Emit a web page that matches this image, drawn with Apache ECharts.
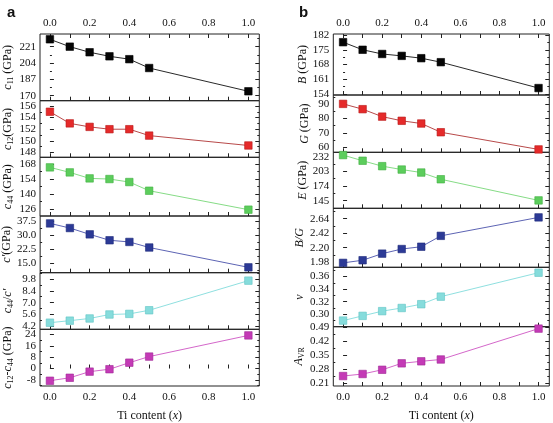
<!DOCTYPE html>
<html><head><meta charset="utf-8">
<script src="https://cdn.jsdelivr.net/npm/echarts@6/dist/echarts.min.js"></script>
<style>html,body{margin:0;padding:0;background:#fff}#c{width:553px;height:423px}</style>
</head><body><div id="c"></div>
<script>
// ---- data (Ti content x) ----
const tiContent = [0.0, 0.1, 0.2, 0.3, 0.4, 0.5, 1.0];
const xTickValues = [0.0, 0.2, 0.4, 0.6, 0.8, 1.0];
const xMinorTickValues = [0.0, 0.1, 0.2, 0.3, 0.4, 0.5, 0.6, 0.7, 0.8, 0.9, 1.0];

// panel a
const c11 = [228.7, 221.0, 215.2, 211.0, 208.0, 198.8, 174.6];
const c12 = [155.0, 153.0, 152.4, 152.0, 152.0, 150.9, 149.2];
const c44 = [164.9, 160.2, 154.6, 154.0, 151.2, 143.1, 125.4];
const cPrime = [36.4, 33.9, 30.5, 27.3, 26.4, 23.4, 12.7];
const c44OverCPrime = [4.63, 4.87, 5.13, 5.60, 5.67, 6.10, 9.60];
const c12MinusC44 = [-8.6, -6.5, -2.2, -0.5, 4.1, 8.4, 23.3];
// panel b
const bulkB = [178.6, 175.0, 173.0, 172.1, 171.0, 169.1, 156.8];
const shearG = [90.2, 86.5, 81.3, 78.4, 76.5, 70.4, 58.4];
const youngE = [235.2, 224.0, 213.3, 206.6, 200.7, 187.4, 145.6];
const ratioBG = [1.97, 2.01, 2.11, 2.18, 2.215, 2.38, 2.66];
const poissonV = [0.290, 0.2975, 0.305, 0.310, 0.316, 0.328, 0.366];
const anisoAVR = [0.247, 0.257, 0.278, 0.310, 0.320, 0.329, 0.482];

// tick labels
const c11Ticks = [170, 187, 204, 221];
const c12Ticks = [148, 150, 152, 154, 156];
const c44Ticks = [126, 140, 154, 168];
const cPrimeTicks = [15.0, 22.5, 30.0, 37.5];
const c44cTicks = [4.2, 5.6, 7.0, 8.4, 9.8];
const c12c44Ticks = [-8, 0, 8, 16, 24];
const bTicks = [154, 161, 168, 175, 182];
const gTicks = [60, 70, 80, 90];
const eTicks = [145, 174, 203, 232];
const bgTicks = [1.98, 2.20, 2.42, 2.64];
const vTicks = [0.30, 0.32, 0.34, 0.36];
const avrTicks = [0.21, 0.28, 0.35, 0.42, 0.49];

// ---- layout / style ----
const BLACK = {m: '#050505', b: '#000', l: '#2a2a2a'};
const RED = {m: '#e52a2a', b: '#b81818', l: '#b84a4a'};
const GREEN = {m: '#5ccd5c', b: '#3fae3f', l: '#86dc86'};
const BLUE = {m: '#2c3a96', b: '#1e2a7a', l: '#5d64b4'};
const CYAN = {m: '#86dcdc', b: '#5fc4c4', l: '#8fe0e0'};
const MAGENTA = {m: '#c43ab6', b: '#a02896', l: '#d467ca'};

const cols = [{left: 40, width: 219.3, gap: 25}, {left: 333.3, width: 216, gap: 21}];
const panels = [
  {col: 0, top: 34, bot: 100.7, min: 164.8, max: 234.2, data: c11, ticks: c11Ticks, dec: 0, c: BLACK, name: '{i|c}{s|11} (GPa)'},
  {col: 0, top: 100.7, bot: 157.3, min: 147.17, max: 156.9, data: c12, ticks: c12Ticks, dec: 0, c: RED, name: '{i|c}{s|12}(GPa)'},
  {col: 0, top: 157.3, bot: 216, min: 119.5, max: 174.3, data: c44, ticks: c44Ticks, dec: 0, c: GREEN, name: '{i|c}{s|44} (GPa)'},
  {col: 0, top: 216, bot: 272.7, min: 9.8, max: 40.4, data: cPrime, ticks: cPrimeTicks, dec: 1, c: BLUE, name: '{i|c′}(GPa)'},
  {col: 0, top: 272.7, bot: 329.3, min: 3.85, max: 10.54, data: c44OverCPrime, ticks: c44cTicks, dec: 1, c: CYAN, name: '{i|c}{s|44}/{i|c′}'},
  {col: 0, top: 329.3, bot: 387.5, min: -12.3, max: 27.6, data: c12MinusC44, ticks: c12c44Ticks, dec: 0, c: MAGENTA, name: '{i|c}{s|12}-{i|c}{s|44} (GPa)'},
  {col: 1, top: 34, bot: 95, min: 153.5, max: 182.5, data: bulkB, ticks: bTicks, dec: 0, c: BLACK, name: '{i|B} (GPa)'},
  {col: 1, top: 95, bot: 152.3, min: 56.4, max: 96.4, data: shearG, ticks: gTicks, dec: 0, c: RED, name: '{i|G} (GPa)'},
  {col: 1, top: 152.3, bot: 208.3, min: 130, max: 240.7, data: youngE, ticks: eTicks, dec: 0, c: GREEN, name: '{i|E} (GPa)'},
  {col: 1, top: 208.3, bot: 267.3, min: 1.903, max: 2.798, data: ratioBG, ticks: bgTicks, dec: 2, c: BLUE, name: '{i|B/G}'},
  {col: 1, top: 267.3, bot: 326.7, min: 0.2803, max: 0.3746, data: poissonV, ticks: vTicks, dec: 2, c: CYAN, name: '{i|v}'},
  {col: 1, top: 326.7, bot: 386, min: 0.1976, max: 0.4915, data: anisoAVR, ticks: avrTicks, dec: 2, c: MAGENTA, name: '{i|A}{s|VR}'}
];

const FONT = 'Liberation Serif';
const AXC = '#111';
const rich = {
  i: {fontFamily: FONT, fontStyle: 'italic', fontSize: 12, color: AXC, lineHeight: 14},
  s: {fontFamily: FONT, fontSize: 8, color: AXC, lineHeight: 6, verticalAlign: 'bottom'}
};

function minors(ticks, min, max) {
  const st = ticks[1] - ticks[0];
  const out = [];
  for (let k = -3; k < ticks.length + 3; k++) {
    const v = ticks[0] + (k + 0.5) * st;
    if (v > min && v < max) out.push(v);
  }
  return out;
}

const grid = [], xAxis = [], yAxis = [], series = [];
panels.forEach((p, i) => {
  const cl = cols[p.col];
  grid.push({left: cl.left, width: cl.width, top: p.top, height: p.bot - p.top,
    show: true, borderColor: '#222', borderWidth: 1, backgroundColor: 'transparent'});
  const firstRow = (i === 0 || i === 6);
  const lastRow = (i === 5 || i === 11);
  xAxis.push({type: 'value', gridIndex: i, min: -0.05, max: 1.055, position: 'bottom',
    axisLine: {show: false}, splitLine: {show: false},
    axisTick: {show: true, inside: true, length: 4, customValues: xMinorTickValues, lineStyle: {color: '#222'}},
    axisLabel: {show: lastRow, customValues: xTickValues, formatter: v => v.toFixed(1),
      fontFamily: FONT, fontSize: 11, color: AXC, margin: 6},
    name: lastRow ? 'Ti content ({i|x})' : '', nameLocation: 'middle', nameGap: 24,
    nameTextStyle: {fontFamily: FONT, fontSize: 12, color: AXC, rich: {i: {fontFamily: FONT, fontStyle: 'italic', fontSize: 12, color: AXC}}}
  });
  if (firstRow) {
    xAxis.push({type: 'value', gridIndex: i, min: -0.05, max: 1.055, position: 'top',
      axisLine: {show: false}, splitLine: {show: false},
      axisTick: {show: true, inside: true, length: 4, customValues: xMinorTickValues, lineStyle: {color: '#222'}},
      axisLabel: {show: true, customValues: xTickValues, formatter: v => v.toFixed(1),
        fontFamily: FONT, fontSize: 11, color: AXC, margin: 5}
    });
  }
  const yIdx = yAxis.length;
  const mn = minors(p.ticks, p.min, p.max);
  const base = {type: 'value', gridIndex: i, min: p.min, max: p.max, axisLine: {show: false}, splitLine: {show: false}};
  yAxis.push(Object.assign({}, base, {position: 'left',
    axisTick: {show: true, inside: true, length: 4, customValues: p.ticks, lineStyle: {color: '#222'}},
    axisLabel: {show: true, customValues: p.ticks, formatter: v => v.toFixed(p.dec),
      fontFamily: FONT, fontSize: 11, color: AXC, margin: 4},
    name: p.name, nameLocation: 'middle', nameRotate: 90, nameGap: cl.gap,
    nameTextStyle: {fontFamily: FONT, fontSize: 12, color: AXC, rich: rich}
  }));
  yAxis.push(Object.assign({}, base, {position: 'left',
    axisTick: {show: true, inside: true, length: 2, customValues: mn, lineStyle: {color: '#222'}},
    axisLabel: {show: false}}));
  yAxis.push(Object.assign({}, base, {position: 'right',
    axisTick: {show: true, inside: true, length: 4, customValues: p.ticks, lineStyle: {color: '#222'}},
    axisLabel: {show: false}}));
  yAxis.push(Object.assign({}, base, {position: 'right',
    axisTick: {show: true, inside: true, length: 2, customValues: mn, lineStyle: {color: '#222'}},
    axisLabel: {show: false}}));
  const xIdx = xAxis.length - (firstRow ? 2 : 1);
  series.push({type: 'line', xAxisIndex: xIdx, yAxisIndex: yIdx,
    data: tiContent.map((x, k) => [x, p.data[k]]),
    symbol: 'rect', symbolSize: 7.5, showSymbol: true,
    lineStyle: {color: p.c.l, width: 1},
    itemStyle: {color: p.c.m, borderColor: p.c.b, borderWidth: 0.6},
    animation: false, z: 3});
});

const chart = echarts.init(document.getElementById('c'), null, {renderer: 'canvas'});
chart.setOption({
  animation: false,
  backgroundColor: '#fff',
  grid, xAxis, yAxis, series,
  graphic: [
    {type: 'text', left: 7, top: 5, style: {text: 'a', fontFamily: 'Liberation Sans', fontWeight: 'bold', fontSize: 15, fill: '#111'}},
    {type: 'text', left: 299, top: 5, style: {text: 'b', fontFamily: 'Liberation Sans', fontWeight: 'bold', fontSize: 15, fill: '#111'}}
  ]
});
</script></body></html>
